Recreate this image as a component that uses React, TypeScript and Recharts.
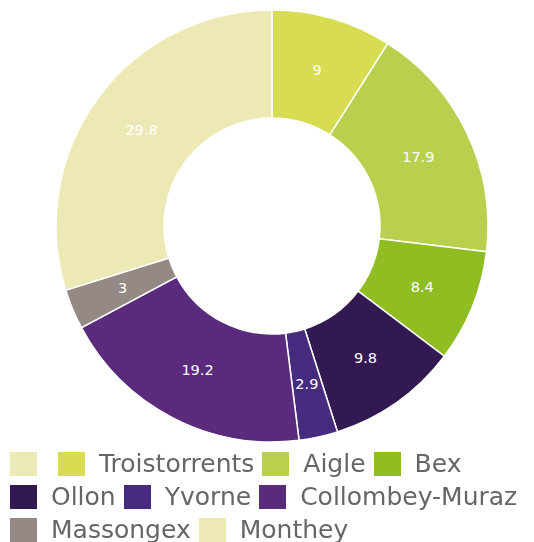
import { PieChart, Pie, Cell } from "recharts"

const categories = ["", "Troistorrents", "Aigle", "Bex", "Ollon", "Yvorne", "Collombey-Muraz", "Massongex", "Monthey"]
const values = [0, 9, 17.9, 8.4, 9.8, 2.9, 19.2, 3, 29.8]
const colors = ["#ecebb8", "#d7dc53", "#b8d04e", "#8fbd22", "#331952", "#472b7e", "#5a2a7c", "#958985", "#ece9b5"]

const font = "'DejaVu Sans', Verdana, sans-serif"
const RAD = Math.PI / 180

const renderLabel = (props: any) => {
  const { cx, cy, midAngle, innerRadius, outerRadius, value } = props
  const r = (innerRadius + outerRadius) / 2
  const x = cx + r * Math.cos(-midAngle * RAD)
  const y = cy + r * Math.sin(-midAngle * RAD)
  return (
    <text x={x} y={y} fill="#ffffff" fontSize={14.5} fontFamily={font} textAnchor="middle" dominantBaseline="central">
      {value}
    </text>
  )
}

export default function App() {
  const data = categories
    .map((name, i) => ({ name, value: values[i], color: colors[i] }))
    .filter((d) => d.value > 0)

  return (
    <div style={{ position: "fixed", left: 0, top: 0, width: 534, height: 542, background: "#fff" }}>
      <style>{"html,body{overflow:hidden;margin:0}"}</style>
      <PieChart width={534} height={445} margin={{ top: 0, right: 0, bottom: 0, left: 0 }}>
        <Pie
          data={data}
          dataKey="value"
          nameKey="name"
          cx={272}
          cy={226}
          innerRadius={108}
          outerRadius={216}
          startAngle={90}
          endAngle={-270}
          stroke="#ffffff"
          strokeWidth={1.5}
          label={renderLabel}
          labelLine={false}
          isAnimationActive={false}
        >
          {data.map((d, i) => (
            <Cell key={`cell-${i}`} fill={d.color} />
          ))}
        </Pie>
      </PieChart>
      {/* legend */}
      <div
        style={{
          position: "absolute",
          top: 447,
          left: 10,
          width: 524,
          display: "flex",
          flexWrap: "wrap",
          fontFamily: font,
          fontSize: 25,
          color: "#666666",
        }}
      >
        {categories.map((name, i) => (
          <div
            key={`leg-${i}`}
            style={{ display: "flex", alignItems: "center", height: 33, marginRight: 8, whiteSpace: "nowrap" }}
          >
            <div style={{ width: 27, height: 24, background: colors[i], marginRight: name ? 14 : 13 }} />
            <span style={{ lineHeight: "22px" }}>{name}</span>
          </div>
        ))}
      </div>
    </div>
  )
}
